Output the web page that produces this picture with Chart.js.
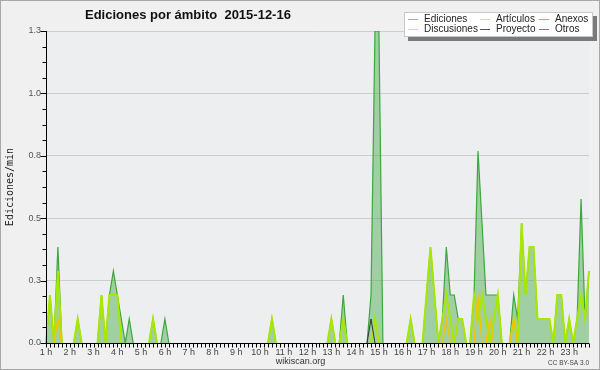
<!DOCTYPE html>
<html><head><meta charset="utf-8">
<script src="https://cdn.jsdelivr.net/npm/chart.js@4.4.1/dist/chart.umd.min.js"></script>
<style>html,body{margin:0;padding:0;background:#f0f0f0;}canvas{display:block;}</style>
</head><body>
<canvas id="c" width="600" height="370"></canvas>
<script>
// Hour tick labels (one label every 6 ten-minute slots)
const hourLabels = ['1 h','2 h','3 h','4 h','5 h','6 h','7 h','8 h','9 h','10 h','11 h','12 h',
  '13 h','14 h','15 h','16 h','17 h','18 h','19 h','20 h','21 h','22 h','23 h'];

// Edits per minute, one value per 10-minute slot (6 per hour row)
const ediciones = [
  0,0.2,0,0.4,0,0,        0,0,0.1,0,0,0,          0,0,0.2,0,0.2,0.3,
  0.2,0.1,0,0.1,0,0,      0,0,0,0.1,0,0,          0.1,0,0,0,0,0,
  0,0,0,0,0,0,            0,0,0,0,0,0,            0,0,0,0,0,0,
  0,0,0,0.1,0,0,          0,0,0,0,0,0,            0,0,0,0,0,0,
  0.1,0,0,0.2,0,0,        0,0,0,0,0.2,1.3,        1.3,0,0,0,0,0,
  0,0,0.1,0,0,0,          0.2,0.4,0.2,0,0.1,0.4,  0.2,0.2,0.1,0.1,0,0,
  0.2,0.8,0.5,0.2,0.2,0.2, 0.2,0,0,0,0.2,0.1,     0.5,0.2,0.4,0.4,0.1,0.1,
  0.1,0.1,0,0.2,0.2,0,    0.1,0,0.1,0.6,0.1,0.3
];
const articulos = [
  0,0.2,0,0.3,0,0,        0,0,0.1,0,0,0,          0,0,0.2,0,0.2,0.2,
  0.2,0,0,0,0,0,          0,0,0,0.1,0,0,          0,0,0,0,0,0,
  0,0,0,0,0,0,            0,0,0,0,0,0,            0,0,0,0,0,0,
  0,0,0,0.1,0,0,          0,0,0,0,0,0,            0,0,0,0,0,0,
  0.1,0,0,0.1,0,0,        0,0,0,0,0,0.1,          0,0,0,0,0,0,
  0,0,0.1,0,0,0,          0.2,0.4,0.2,0,0.1,0.2,  0.1,0,0.1,0.1,0,0,
  0.2,0.1,0.2,0.1,0,0.1,  0.2,0,0,0,0.1,0,        0.5,0.2,0.4,0.4,0.1,0.1,
  0.1,0.1,0,0.2,0.2,0,    0.1,0,0.1,0.2,0.1,0.3
];
const anexos = [
  0,0,0,0,0,0, 0,0,0,0,0,0, 0,0,0,0,0,0, 0,0,0,0,0,0, 0,0,0,0,0,0, 0,0,0,0,0,0,
  0,0,0,0,0,0, 0,0,0,0,0,0, 0,0,0,0,0,0, 0,0,0,0,0,0, 0,0,0,0,0,0, 0,0,0,0,0,0,
  0,0,0,0,0,0, 0,0,0,0,0,0, 0,0,0,0,0,0, 0,0,0,0,0,0, 0,0,0,0,0,0, 0,0,0,0,0,0,
  0,0,0,0,0,0, 0,0,0,0,0,0, 0,0,0,0,0,0, 0,0,0,0,0,0, 0,0,0,0,0,0
];
const discusiones = [
  0,0,0,0.1,0,0, 0,0,0,0,0,0, 0,0,0,0,0,0, 0,0,0,0,0,0, 0,0,0,0,0,0, 0,0,0,0,0,0,
  0,0,0,0,0,0, 0,0,0,0,0,0, 0,0,0,0,0,0, 0,0,0,0,0,0, 0,0,0,0,0,0, 0,0,0,0,0,0,
  0,0,0,0,0,0, 0,0,0,0,0,0, 0,0,0,0,0,0, 0,0,0,0,0,0, 0,0,0,0,0,0.1, 0,0,0,0,0,0,
  0,0.2,0,0,0.1,0, 0,0,0,0,0.1,0, 0,0,0,0,0,0, 0,0,0,0,0,0, 0,0,0,0,0,0
];
const proyecto = [
  0,0,0,0,0,0, 0,0,0,0,0,0, 0,0,0,0,0,0, 0,0,0,0,0,0, 0,0,0,0,0,0, 0,0,0,0,0,0,
  0,0,0,0,0,0, 0,0,0,0,0,0, 0,0,0,0,0,0, 0,0,0,0,0,0, 0,0,0,0,0,0, 0,0,0,0,0,0,
  0,0,0,0,0,0, 0,0,0,0,0.1,0, 0,0,0,0,0,0, 0,0,0,0,0,0, 0,0,0,0,0,0, 0,0,0,0,0,0,
  0,0,0,0,0,0, 0,0,0,0,0,0, 0,0,0,0,0,0, 0,0,0,0,0,0, 0,0,0,0,0,0
];
const otros = [
  0,0,0,0,0,0, 0,0,0,0,0,0, 0,0,0,0,0,0, 0,0,0,0,0,0, 0,0,0,0,0,0, 0,0,0,0,0,0,
  0,0,0,0,0,0, 0,0,0,0,0,0, 0,0,0,0,0,0, 0,0,0,0,0,0, 0,0,0,0,0,0, 0,0,0,0,0,0,
  0,0,0,0,0,0, 0,0,0,0,0,0, 0,0,0,0,0,0, 0,0,0,0,0,0, 0,0,0,0,0,0, 0,0,0,0,0,0,
  0,0,0,0,0,0, 0,0,0,0,0,0, 0,0,0,0,0,0, 0,0,0,0,0,0, 0,0,0,0,0,0
];

const titleText = 'Ediciones por ámbito  2015-12-16';
const yTitle = 'Ediciones/min';

// slot labels: 6 ten-minute slots per hour
const slots = [];
hourLabels.forEach(h => { for (let m = 0; m < 6; m++) slots.push(m === 0 ? h : h + ' ' + (m * 10)); });

const hideZero = ctx => (ctx.p0.parsed.y === 0 && ctx.p1.parsed.y === 0) ? 'rgba(0,0,0,0)' : undefined;

function ds(label, data, color, width, order, legendColor, extra) {
  return Object.assign({
    label, data, borderColor: color, borderWidth: width, pointRadius: 0, tension: 0,
    fill: false, order, legendColor, segment: { borderColor: hideZero }
  }, extra || {});
}

const datasets = [
  ds('Ediciones', ediciones, '#3aa83a', 1.2, 10, '#77c877', { fill: 'origin', backgroundColor: 'rgba(70,168,70,0.45)' }),
  ds('Discusiones', discusiones, '#f2c400', 1.5, 4, '#ffd84a'),
  ds('Artículos', articulos, '#a8e800', 2, 6, '#c8ee55'),
  ds('Proyecto', proyecto, '#333333', 1, 2, '#555555'),
  ds('Anexos', anexos, '#ee7744', 1, 5, '#ee8855'),
  ds('Otros', otros, '#9944ee', 1, 3, '#9955ee')
];

const legendLayout = [
  ['Ediciones', 0, 0], ['Artículos', 1, 0], ['Anexos', 2, 0],
  ['Discusiones', 0, 1], ['Proyecto', 1, 1], ['Otros', 2, 1]
];

const decor = {
  id: 'decor',
  beforeDraw(chart) {
    const { ctx, chartArea: a } = chart;
    ctx.save();
    ctx.fillStyle = '#f0f0f0';
    ctx.fillRect(0, 0, chart.width, chart.height);
    ctx.strokeStyle = '#a8a8a8';
    ctx.lineWidth = 1;
    ctx.strokeRect(0.5, 0.5, chart.width - 1, chart.height - 1);
    ctx.fillStyle = '#eceef0';
    ctx.fillRect(a.left, a.top, a.right - a.left, a.bottom - a.top);
    ctx.restore();
  },
  afterDatasetsDraw(chart) {
    const { ctx, chartArea: a, scales: { x, y } } = chart;
    ctx.save();
    ctx.strokeStyle = '#000';
    ctx.lineWidth = 1;
    ctx.beginPath();
    const y0 = Math.round(y.getPixelForValue(0)) + 0.5;
    const xl = Math.round(a.left) + 0.5;
    ctx.moveTo(xl, a.top); ctx.lineTo(xl, y0); ctx.lineTo(a.right, y0);
    y.ticks.forEach((t, i) => {
      const py = Math.round(y.getPixelForValue(t.value)) + 0.5;
      const len = i % 4 === 0 ? 6 : 4;
      ctx.moveTo(xl - len, py); ctx.lineTo(xl, py);
    });
    x.ticks.forEach((t, i) => {
      const px = Math.round(x.getPixelForTick(i)) + 0.5;
      ctx.moveTo(px, y0); ctx.lineTo(px, y0 + 4);
    });
    ctx.stroke();
    ctx.restore();
  },
  afterDraw(chart) {
    const { ctx } = chart;
    ctx.save();
    // title
    ctx.fillStyle = '#111';
    ctx.font = 'bold 13px "Liberation Sans"';
    ctx.textAlign = 'left';
    ctx.textBaseline = 'alphabetic';
    ctx.fillText(titleText, 85, 18.5);
    // legend box with shadow
    ctx.fillStyle = '#7a7a7a';
    ctx.fillRect(408, 16, 189, 25);
    ctx.fillStyle = '#ffffff';
    ctx.fillRect(404, 12, 189, 25);
    ctx.strokeStyle = '#c8c8c8';
    ctx.strokeRect(404.5, 12.5, 188, 24);
    const colX = [408, 480, 539];
    const rowY = [19.5, 29.5];
    ctx.font = '10px "Liberation Sans"';
    ctx.textBaseline = 'middle';
    legendLayout.forEach(([lab, c, r]) => {
      const d = chart.data.datasets.find(s => s.label === lab);
      ctx.strokeStyle = d.legendColor;
      ctx.lineWidth = 1;
      ctx.beginPath();
      ctx.moveTo(colX[c], rowY[r]); ctx.lineTo(colX[c] + 10, rowY[r]);
      ctx.stroke();
      ctx.fillStyle = '#222';
      ctx.fillText(lab, colX[c] + 16, rowY[r]);
    });
    // footer
    ctx.textBaseline = 'alphabetic';
    ctx.fillStyle = '#333';
    ctx.font = '9px "Liberation Sans"';
    ctx.textAlign = 'center';
    ctx.fillText('wikiscan.org', 300.5, 364);
    ctx.font = '6.5px "Liberation Sans"';
    ctx.textAlign = 'right';
    ctx.fillStyle = '#444';
    ctx.fillText('CC BY-SA 3.0', 589, 365);
    ctx.restore();
  }
};

new Chart(document.getElementById('c'), {
  type: 'line',
  data: { labels: slots, datasets },
  options: {
    responsive: false,
    animation: false,
    devicePixelRatio: 1,
    layout: { padding: { top: 31, right: 11, left: 0, bottom: 0 } },
    plugins: { legend: { display: false }, tooltip: { enabled: false }, title: { display: false } },
    scales: {
      x: {
        type: 'category',
        offset: false,
        border: { display: false },
        grid: { drawOnChartArea: false, drawTicks: true, tickLength: 4, tickColor: 'rgba(0,0,0,0)', color: 'rgba(0,0,0,0)' },
        ticks: {
          autoSkip: false, maxRotation: 0, minRotation: 0, padding: 0,
          color: '#444', font: { family: 'Liberation Sans', size: 9 },
          callback: (v, i) => (i % 6 === 0 ? hourLabels[i / 6] : '')
        },
        afterFit: s => { s.height = 27; }
      },
      y: {
        min: 0, max: 1.3,
        border: { display: false },
        grid: {
          color: ctx => (ctx.index % 4 === 0 && ctx.index > 0 ? '#cdcdcd' : 'rgba(0,0,0,0)'),
          tickLength: 5, tickColor: 'rgba(0,0,0,0)'
        },
        ticks: {
          stepSize: 0.065, autoSkip: false, padding: 0,
          color: '#555', font: { family: 'Liberation Sans', size: 9 },
          callback: (v, i) => (i % 4 === 0 ? Number(v).toFixed(1) : '')
        },
        title: {
          display: true, text: yTitle, color: '#222',
          font: { family: 'DejaVu Sans Mono', size: 10 },
          padding: { top: 4, bottom: 0 }
        },
        afterFit: s => { s.width = 46; }
      }
    }
  },
  plugins: [decor]
});
</script>
</body></html>
